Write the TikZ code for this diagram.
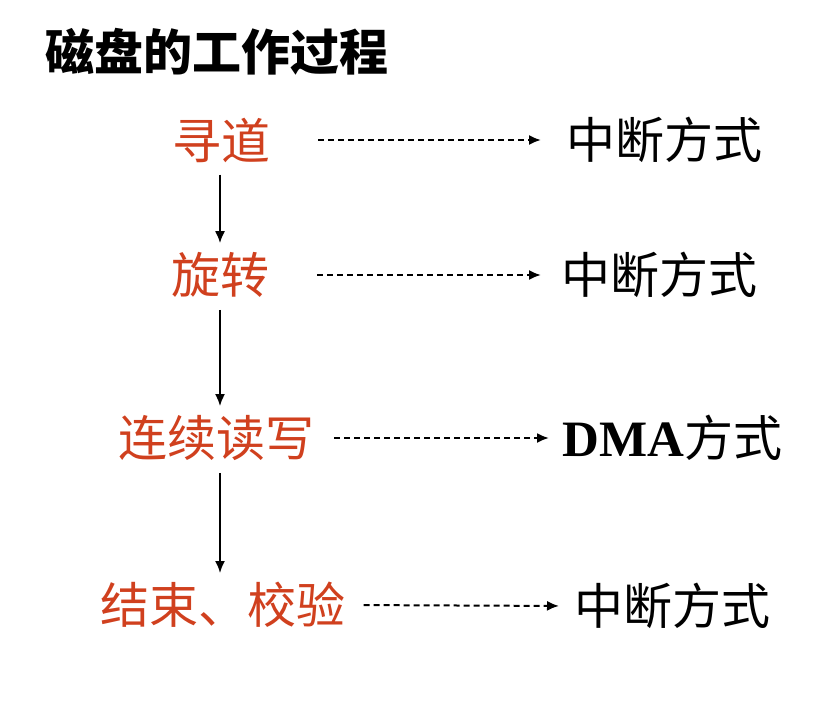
\documentclass[tikz,border=0pt]{standalone}
\usepackage{fontspec}
\setmainfont{Liberation Serif}
\newfontfamily\cjk{Noto Sans CJK SC}
\usetikzlibrary{arrows.meta}
\usetikzlibrary{positioning}
\definecolor{stepred}{RGB}{208,64,30}

\begin{document}
\begin{tikzpicture}[x=1pt,y=-1pt,
    stepnode/.style={text=stepred, inner sep=0pt, font=\cjk\fontsize{49}{49}\selectfont},
    modenode/.style={inner sep=0pt, font=\cjk\fontsize{49}{49}\selectfont},
    flow/.style={line width=2pt, -{Latex[length=12pt,width=10pt]}},
    hint/.style={line width=2pt, dash pattern=on 6pt off 4pt, -{Latex[length=12pt,width=10pt]}}]
    \useasboundingbox (0,0) rectangle (821,705);
            % title
            \node[anchor=west, inner sep=0pt, font=\cjk\bfseries\fontsize{49}{49}\selectfont] (title) at (45,52) {磁盘的工作过程};
            % steps
            \node[stepnode] (seek) at (221,140) {寻道};
            \node[stepnode] (spin) at (220,275) {旋转};
            \node[stepnode] (rw) at (216,438) {连续读写};
            \node[stepnode] (done) at (223,605) {结束、校验};
            % modes
            \node[modenode, anchor=west] (m1) at (566,140) {中断方式};
            \node[modenode, anchor=west] (m2) at (561,275) {中断方式};
            \node[modenode, anchor=west] (m3) at (562,438) {{\rmfamily\bfseries\fontsize{51}{51}\selectfont DMA}方式};
            \node[modenode, anchor=west] (m4) at (574,606) {中断方式};
    	    \path[flow, shorten <=12pt, shorten >=9pt] (seek.south -| 220,0) edge (spin.north -| 220,0);
    	    \path[flow, shorten <=12pt, shorten >=9pt] (spin.south -| 220,0) edge (rw.north -| 220,0);
    	    \path[flow, shorten <=12pt, shorten >=9pt] (rw.south -| 220,0) edge (done.north -| 220,0);
    	    \path[hint, shorten <=48pt, shorten >=25pt] (seek.east) edge (m1.west);
    	    \path[hint, shorten <=48pt, shorten >=20pt] (spin.east) edge (m2.west);
    	    \path[hint, shorten <=20pt, shorten >=13pt] (rw.east) edge (m3.west);
    	    \path[hint, shorten <=18pt, shorten >=15pt] (done.east) edge (m4.west);
\end{tikzpicture}
\end{document}
